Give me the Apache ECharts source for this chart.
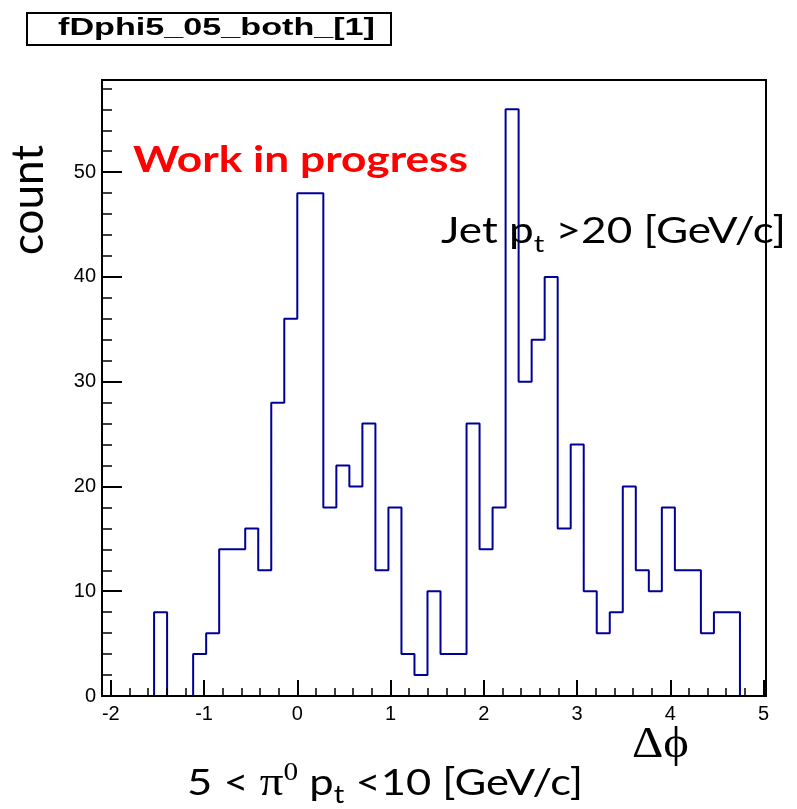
<!DOCTYPE html>
<html><head><meta charset="utf-8">
<script src="https://cdn.jsdelivr.net/npm/echarts@6/dist/echarts.min.js"></script>
<style>html,body{margin:0;padding:0;background:#fff}#c{width:797px;height:809px}</style>
</head><body><div id="c"></div>
<script>
// ---- data ----
const histTitle = 'fDphi5_05_both_[1]';
const binLow = -2 * Math.PI / 3;      // histogram lower edge
const binWidth = 2 * Math.PI / 45;    // histogram bin width
const counts = [0,0,0,0,8,0,0,4,6,14,14,16,12,28,36,48,48,18,22,20,26,12,18,4,2,10,4,4,26,14,18,56,30,34,40,16,24,10,6,8,20,12,10,18,12,12,6,8,8,0,0];
const xMajorTicks = [-2,-1,0,1,2,3,4,5];
const xMinorTicks = [-1.8,-1.6,-1.4,-1.2,-0.8,-0.6,-0.4,-0.2,0.2,0.4,0.6,0.8,1.2,1.4,1.6,1.8,2.2,2.4,2.6,2.8,3.2,3.4,3.6,3.8,4.2,4.4,4.6,4.8];
const yMajorTicks = [0,10,20,30,40,50];
const yMinorTicks = [2,4,6,8,12,14,16,18,22,24,26,28,32,34,36,38,42,44,46,48,52,54,56,58];
const yMax = 58.8;

const xMin = binLow, xMax = binLow + counts.length * binWidth;
const stepData = counts.map((c, i) => [binLow + i * binWidth, c]);
stepData.push([xMax, counts[counts.length - 1]]);

// ---- text helpers ----
const mctx = document.createElement('canvas').getContext('2d');
function mw(t, font) { mctx.font = font; return mctx.measureText(t).width; }
function boff(font, ch) { mctx.font = font; mctx.textBaseline = 'middle'; return mctx.measureText(ch || 'H').actualBoundingBoxDescent; }
function line(segs, left, width, baseline, color) {
  let total = 0;
  segs.forEach(s => { s.w = mw(s.t, s.font); total += s.w; });
  const k = width / total;
  let x = left;
  return segs.map(s => {
    const el = {type: 'text', x: x, y: baseline + (s.dy || 0) - boff(s.font), scaleX: k, silent: true, z: 100,
      style: {text: s.t, font: s.font, fill: color, textAlign: 'left', textVerticalAlign: 'middle'}};
    x += s.w * k;
    return el;
  });
}
const LATO = 'Lato', SERIF = '"Liberation Serif"';
const graphics = [];
graphics.push({type: 'rect', shape: {x: 27, y: 13, width: 364, height: 32}, style: {fill: '#fff', stroke: '#000', lineWidth: 2}, z: 99, silent: true});
graphics.push(...line([{t: histTitle, font: 'bold 24px "Liberation Sans"'}], 58, 317, 35, '#000'));
graphics.push(...line([{t: 'Work in progress', font: 'bold 37px ' + LATO}], 133, 335, 172, '#ff0000'));
graphics.push(...line([
  {t: 'Jet p', font: '36px ' + LATO},
  {t: 't', font: '24px ' + LATO, dy: 9},
  {t: ' >20 [GeV/c]', font: '36px ' + LATO}
], 441, 345, 243, '#000'));
graphics.push(...line([{t: 'Δϕ', font: '44px ' + SERIF}], 632, 57, 757, '#000'));
graphics.push(...line([
  {t: '5 < ', font: '37px ' + LATO},
  {t: 'π', font: '40px ' + SERIF},
  {t: '0', font: '25px ' + SERIF, dy: -15},
  {t: ' p', font: '37px ' + LATO},
  {t: 't', font: '25px ' + LATO, dy: 8},
  {t: ' <10 [GeV/c]', font: '37px ' + LATO}
], 187, 396, 795, '#000'));
(function () {
  const f = '45px ' + LATO;
  const k = 110 / mw('count', f);
  const off = boff(f, 'x');
  graphics.push({type: 'text', x: 43 - off, y: 255, rotation: Math.PI / 2, scaleX: k, silent: true, z: 100,
    style: {text: 'count', font: f, fill: '#000', textAlign: 'left', textVerticalAlign: 'middle'}});
})();

const gridRect = {left: 102, right: 31, top: 80, bottom: 113};
const lab = {fontSize: 20, fontFamily: '"Liberation Sans"', color: '#000'};
const option = {
  animation: false,
  backgroundColor: '#fff',
  grid: [
    Object.assign({show: true, borderColor: '#000', borderWidth: 2, backgroundColor: 'transparent'}, gridRect),
    Object.assign({show: false}, gridRect)
  ],
  xAxis: [
    {type: 'value', gridIndex: 0, min: xMin, max: xMax, z: 10,
     axisLine: {show: true, onZero: false, lineStyle: {color: '#000', width: 2}},
     axisTick: {show: true, inside: true, length: 16, customValues: xMajorTicks, lineStyle: {color: '#000', width: 2}},
     axisLabel: Object.assign({show: true, margin: 8, customValues: xMajorTicks}, lab),
     splitLine: {show: false}},
    {type: 'value', gridIndex: 1, min: xMin, max: xMax, z: 10,
     axisLine: {show: false, onZero: false},
     axisTick: {show: true, inside: true, length: 8, customValues: xMinorTicks, lineStyle: {color: '#000', width: 1.5}},
     axisLabel: {show: false}, splitLine: {show: false}}
  ],
  yAxis: [
    {type: 'value', gridIndex: 0, min: 0, max: yMax, z: 10,
     axisLine: {show: true, onZero: false, lineStyle: {color: '#000', width: 2}},
     axisTick: {show: true, inside: true, length: 20, customValues: yMajorTicks, lineStyle: {color: '#000', width: 2}},
     axisLabel: Object.assign({show: true, margin: 6, customValues: yMajorTicks}, lab),
     splitLine: {show: false}},
    {type: 'value', gridIndex: 1, min: 0, max: yMax, z: 10,
     axisLine: {show: false, onZero: false},
     axisTick: {show: true, inside: true, length: 10, customValues: yMinorTicks, lineStyle: {color: '#000', width: 1.5}},
     axisLabel: {show: false}, splitLine: {show: false}}
  ],
  series: [{
    type: 'line', xAxisIndex: 0, yAxisIndex: 0, step: 'end', data: stepData,
    showSymbol: false, symbol: 'none', z: 2,
    lineStyle: {color: '#000099', width: 2}
  }],
  graphic: {elements: graphics}
};
const chart = echarts.init(document.getElementById('c'), null, {renderer: 'canvas'});
chart.setOption(option);
</script>
</body></html>
